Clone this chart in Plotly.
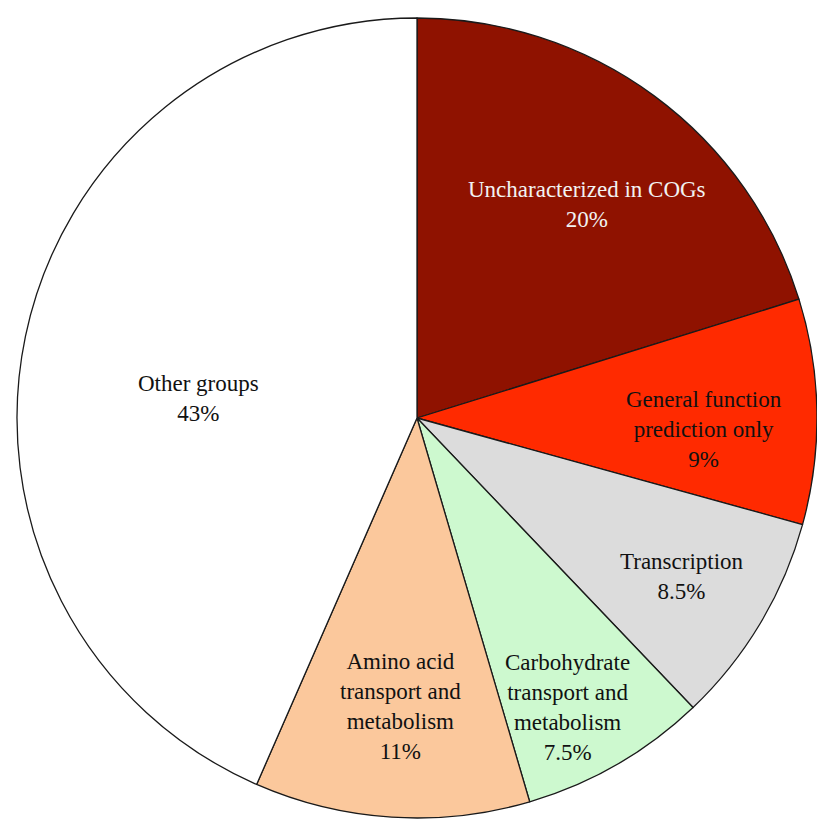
import plotly.graph_objects as go

categories = ["Uncharacterized in COGs", "General function<br>prediction only", "Transcription",
              "Carbohydrate<br>transport and<br>metabolism", "Amino acid<br>transport and<br>metabolism",
              "Other groups"]
values = [20, 9, 8.5, 7.5, 11, 43]
pct_labels = ["20%", "9%", "8.5%", "7.5%", "11%", "43%"]
colors = ["#8F1200", "#FF2A00", "#DCDCDC", "#CDF9CF", "#FBC89C", "#FFFFFF"]
text_colors = ["#F2F2F2", "#111111", "#111111", "#111111", "#111111", "#111111"]
# label centers (pixel coords in 817x829 canvas)
label_px = [(587, 204), (704, 429), (682, 576), (567, 707), (400, 706), (198, 398)]

W, H = 817, 829
cx, cy, r = 417, 418, 400

fig = go.Figure(go.Pie(
    labels=[c.replace("<br>", " ") for c in categories],
    values=values,
    sort=False,
    direction="clockwise",
    rotation=0,
    marker=dict(colors=colors, line=dict(color="#1a1a1a", width=1.3)),
    textinfo="none",
    hoverinfo="label+value",
    showlegend=False,
    domain=dict(x=[(cx - r) / W, (cx + r) / W], y=[1 - (cy + r) / H, 1 - (cy - r) / H]),
))

for cat, p, tc, (px, py) in zip(categories, pct_labels, text_colors, label_px):
    fig.add_annotation(
        x=px / W, y=1 - py / H, xref="paper", yref="paper",
        text=f"{cat}<br>{p}", showarrow=False,
        font=dict(family="Liberation Serif, Times New Roman, serif", size=23, color=tc),
        align="center", xanchor="center", yanchor="middle",
    )

fig.update_layout(
    width=W, height=H,
    margin=dict(l=0, r=0, t=0, b=0),
    paper_bgcolor="white", plot_bgcolor="white",
)

fig.write_html("out.html")
